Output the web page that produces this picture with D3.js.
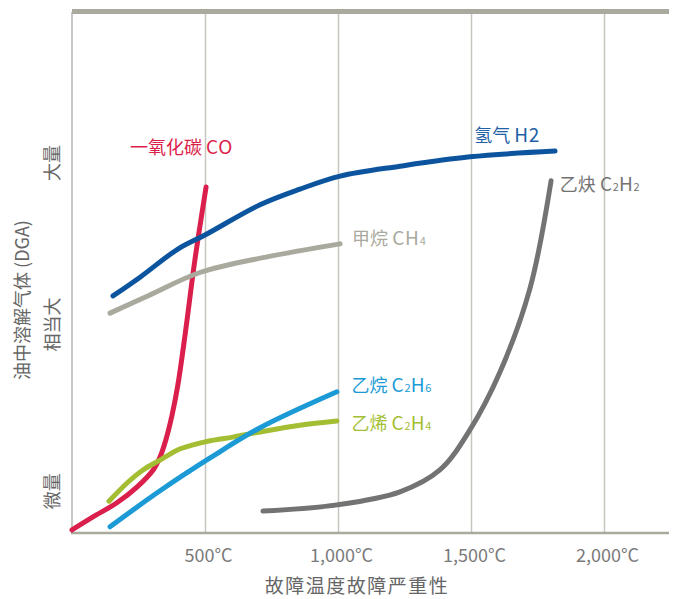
<!DOCTYPE html>
<html>
<head>
<meta charset="utf-8">
<script src="https://cdn.jsdelivr.net/npm/d3@7"></script>
<style>
  html, body { margin: 0; padding: 0; background: #ffffff; }
  svg { display: block; }
  text { font-family: "Noto Sans CJK SC", "Noto Sans", sans-serif; }
</style>
</head>
<body>
<svg id="chart" width="675" height="599"></svg>
<script>
// ---- Data (temperature °C, relative gas amount 0-100) ----
const tickValues = [500, 1000, 1500, 2000];
const xTitle = "故障温度故障严重性";
const yTitle = "油中溶解气体 (DGA)";
const yLevelLabels = ["微量", "相当大", "大量"];
const yLevelValues = [8, 40, 71];

const coData   = [[0,0.6],[79,3.1],[169,5.8],[244,8.8],[305,12.1],[331,14.6],[353,17.9],[376,22.6],[398,28.4],[425,38.0],[462,52.4],[504,66.4]];
const h2Data   = [[154,45.5],[256,49.1],[398,54.5],[500,57.2],[707,63.0],[857,66.0],[1008,68.5],[1233,70.4],[1496,72.2],[1816,73.3]];
const ch4Data  = [[143,42.2],[293,45.7],[481,50.0],[733,53.0],[1008,55.5]];
const c2h6Data = [[143,1.2],[331,8.1],[519,14.4],[707,20.2],[996,27.1]];
const c2h4Data = [[139,6.1],[207,9.6],[267,12.1],[331,14.0],[395,15.9],[455,16.9],[519,17.7],[605,18.4],[707,19.4],[857,20.7],[996,21.5]];
const c2h2Data = [[718,4.2],[996,5.4],[1233,7.9],[1383,12.1],[1496,19.8],[1609,30.9],[1722,47.0],[1801,67.6]];

const seriesNames = ["CO", "H2", "CH4", "C2H6", "C2H4", "C2H2"];
// label parts: [text, kind]  kind: "cjk" | "lat" | "sub"
const seriesLabels = {
  CO:   [["一氧化碳 ", "cjk"], ["CO", "lat"]],
  H2:   [["氢气 ", "cjk"], ["H2", "lat"]],
  CH4:  [["甲烷 ", "cjk"], ["CH", "lat"], ["4", "sub"]],
  C2H6: [["乙烷 ", "cjk"], ["C", "lat"], ["2", "sub"], ["H", "lat"], ["6", "sub"]],
  C2H4: [["乙烯 ", "cjk"], ["C", "lat"], ["2", "sub"], ["H", "lat"], ["4", "sub"]],
  C2H2: [["乙炔 ", "cjk"], ["C", "lat"], ["2", "sub"], ["H", "lat"], ["2", "sub"]]
};
// label anchor in data units
const labelAnchors = {
  CO:   [218, 72.7],
  H2:   [1512, 75.0],
  CH4:  [1053, 55.3],
  C2H6: [1051, 27.1],
  C2H4: [1051, 19.8],
  C2H2: [1834, 65.6]
};
const seriesColors = {
  CO: "#db1f4c", H2: "#0c559e", CH4: "#a9a99d",
  C2H6: "#1b9ad6", C2H4: "#a3be33", C2H2: "#737373"
};
const labelColors = {
  CO: "#db1f4c", H2: "#1f60a6", CH4: "#a9a99d",
  C2H6: "#1b9ad6", C2H4: "#a3be33", C2H2: "#737373"
};
const seriesData = { CO: coData, H2: h2Data, CH4: ch4Data, C2H6: c2h6Data, C2H4: c2h4Data, C2H2: c2h2Data };
const drawOrder = ["CO", "CH4", "H2", "C2H2", "C2H4", "C2H6"];

// ---- Layout ----
const svg = d3.select("#chart");
const mLeft = 72, mRight = 669, mTop = 12, mBottom = 533;

const x = d3.scaleLinear().domain([0, 2000]).range([mLeft, 604]);
const y = d3.scaleLinear().domain([0, 100]).range([mBottom, mTop]);

// gridlines + tick labels through axis
const xAxis = d3.axisBottom(x)
  .tickValues(tickValues)
  .tickSize(-(mBottom - mTop))
  .tickPadding(16)
  .tickFormat(d => d3.format(",")(d) + "°C");

const gAxis = svg.append("g")
  .attr("transform", `translate(0,${mBottom})`)
  .call(xAxis);
gAxis.select(".domain").remove();
gAxis.selectAll(".tick line")
  .attr("stroke", "#c6c6be")
  .attr("stroke-width", 1.5);
gAxis.selectAll(".tick text")
  .attr("fill", "#7a7a7a")
  .attr("font-size", 18)
  .attr("dx", 3)
  .style("font-family", '"Noto Sans CJK SC", "Noto Sans", sans-serif');

// left axis line
svg.append("line")
  .attr("x1", mLeft).attr("x2", mLeft)
  .attr("y1", mTop).attr("y2", mBottom)
  .attr("stroke", "#b4b4ac").attr("stroke-width", 1.5);

// bottom axis line
svg.append("line")
  .attr("x1", mLeft - 1).attr("x2", mRight)
  .attr("y1", mBottom).attr("y2", mBottom)
  .attr("stroke", "#a9a99d").attr("stroke-width", 2.5);

// top thick bar
svg.append("rect")
  .attr("x", mLeft).attr("y", mTop - 3)
  .attr("width", mRight - mLeft).attr("height", 5)
  .attr("fill", "#a9a99d");

// ---- Curves ----
const line = d3.line()
  .x(d => x(d[0]))
  .y(d => y(d[1]))
  .curve(d3.curveCatmullRom.alpha(0.5));

drawOrder.forEach(name => {
  svg.append("path")
    .datum(seriesData[name])
    .attr("d", line)
    .attr("fill", "none")
    .attr("stroke", seriesColors[name])
    .attr("stroke-width", 5)
    .attr("stroke-linecap", "round")
    .attr("stroke-linejoin", "round");
});

// ---- Series labels ----
seriesNames.forEach(name => {
  const [lx, ly] = labelAnchors[name];
  const t = svg.append("text")
    .attr("x", x(lx))
    .attr("y", y(ly))
    .attr("fill", labelColors[name])
    .attr("font-size", 18);
  seriesLabels[name].forEach(([s, kind]) => {
    const ts = t.append("tspan").text(s);
    if (kind === "cjk") ts.attr("font-size", 18);
    if (kind === "lat") ts.attr("font-size", 19).attr("letter-spacing", 0.8);
    if (kind === "sub") ts.attr("font-size", 11);
  });
});

// ---- Axis titles ----
svg.append("text")
  .attr("x", 357)
  .attr("y", 593)
  .attr("text-anchor", "middle")
  .attr("fill", "#666666")
  .attr("font-size", 19)
  .attr("letter-spacing", 1.5)
  .text(xTitle);

svg.append("text")
  .attr("transform", `translate(29,${300}) rotate(-90)`)
  .attr("text-anchor", "middle")
  .attr("fill", "#666666")
  .attr("font-size", 18)
  .text(yTitle);

yLevelLabels.forEach((lab, i) => {
  svg.append("text")
    .attr("transform", `translate(59,${y(yLevelValues[i])}) rotate(-90)`)
    .attr("text-anchor", "middle")
    .attr("fill", "#666666")
    .attr("font-size", 18)
    .text(lab);
});
</script>
</body>
</html>
